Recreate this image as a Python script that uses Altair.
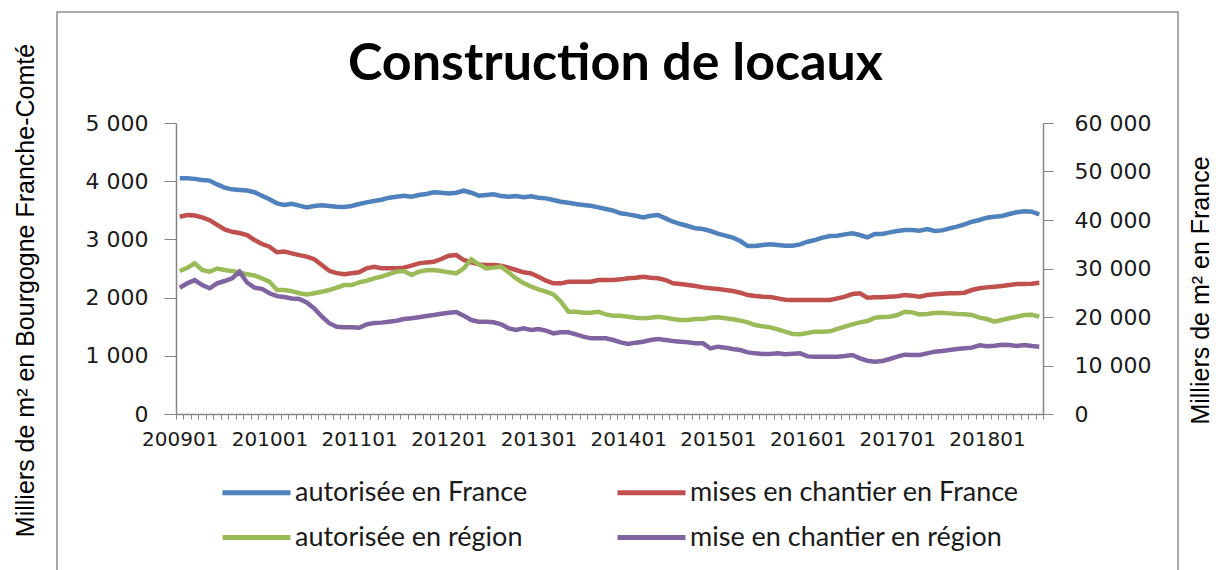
import altair as alt
import pandas as pd

# ---- data -------------------------------------------------------------
MONTHS = [f"{y}{m:02d}" for y in range(2009, 2019) for m in range(1, 13)][:116]

SERIES = ["autorisée en France", "mises en chantier en France",
          "autorisée en région", "mise en chantier en région"]
COLORS = ["#4F81BD", "#C0504D", "#9BBB59", "#8064A2"]

# France (milliers de m²) - right axis
AUT_FRANCE = [
    48590, 48590, 48480, 48240, 48120, 47340, 46680, 46320, 46200, 46080, 45720, 45000,
    44280, 43440, 43080, 43320, 42960, 42600, 42900, 43020, 42900, 42720, 42660,
    42890, 43300, 43640, 43920, 44180, 44600, 44810, 45010, 44810, 45160, 45360, 45700,
    45620, 45490, 45620, 46040, 45620, 45010, 45160, 45290, 44940, 44810, 44940, 44700,
    44900, 44600, 44460, 44120, 43780, 43570, 43300, 43090, 42950, 42610, 42260, 41930,
    41380, 41160, 40880, 40550, 40880, 41030, 40340, 39650, 39170, 38760, 38280,
    38140, 37730, 37180, 36770, 36360, 35660, 34630, 34630, 34840, 34980, 34840, 34700,
    34700, 34980, 35530, 35870, 36360, 36700, 36770, 37040, 37250, 36900, 36420, 37100,
    37100, 37450, 37730, 37930, 37930, 37800, 38140, 37730, 37860, 38280, 38620, 39100,
    39650, 40000, 40480, 40680, 40820, 41230, 41580, 41780, 41710, 41160,
]
MEC_FRANCE = [
    40680, 41040, 40920, 40560, 39960, 39000, 38040, 37560, 37320, 36900, 35880, 35040,
    34500, 33360, 33480, 33120, 32760, 32460, 31920, 30720, 29520, 29040, 28800,
    29000, 29210, 30040, 30370, 30040, 30040, 30040, 30180, 30580, 31060, 31260, 31400,
    31960, 32640, 32780, 31750, 31260, 30850, 30720, 30720, 30580, 30180, 29690, 29210,
    29000, 28310, 27480, 26940, 26940, 27280, 27280, 27280, 27280, 27620, 27620, 27620,
    27760, 27970, 28100, 28310, 28100, 27970, 27620, 26940, 26800, 26590, 26390,
    26110, 25910, 25760, 25560, 25360, 25010, 24530, 24320, 24190, 24120, 23840, 23570,
    23500, 23500, 23500, 23500, 23500, 23500, 23840, 24190, 24740, 24880, 23990, 24050,
    24050, 24190, 24260, 24530, 24400, 24190, 24530, 24670, 24800, 24880, 24880, 25010,
    25560, 25910, 26110, 26260, 26390, 26590, 26800, 26800, 26870, 27070,
]
# Bourgogne Franche-Comté (milliers de m²) - left axis
AUT_REGION = [
    2457, 2510, 2590, 2475, 2445, 2500, 2475, 2455, 2435, 2400, 2380, 2330,
    2275, 2130, 2130, 2110, 2075, 2055, 2075, 2100, 2130, 2170, 2215,
    2216, 2262, 2290, 2330, 2359, 2405, 2445, 2457, 2388, 2445, 2468, 2474,
    2457, 2434, 2417, 2503, 2657, 2571, 2503, 2515, 2531, 2434, 2330, 2250,
    2190, 2142, 2102, 2056, 1930, 1758, 1758, 1741, 1741, 1758, 1712, 1689,
    1689, 1672, 1655, 1644, 1655, 1672, 1655, 1632, 1615, 1615, 1632,
    1632, 1655, 1661, 1644, 1627, 1604, 1575, 1529, 1506, 1489, 1455, 1415,
    1375, 1369, 1392, 1415, 1415, 1420, 1461, 1500, 1540, 1575, 1598, 1655,
    1667, 1672, 1701, 1758, 1746, 1712, 1718, 1735, 1741, 1729, 1718, 1712,
    1701, 1655, 1632, 1586, 1615, 1644, 1672, 1701, 1706, 1672,
]
MEC_REGION = [
    2170, 2245, 2300, 2215, 2160, 2245, 2285, 2330, 2445, 2260, 2170, 2150,
    2075, 2025, 2010, 1985, 1975, 1915, 1815, 1675, 1560, 1500, 1490,
    1489, 1483, 1540, 1563, 1570, 1586, 1603, 1632, 1644, 1661, 1684, 1701,
    1724, 1741, 1752, 1690, 1615, 1586, 1586, 1575, 1540, 1472, 1443, 1472,
    1443, 1461, 1432, 1386, 1403, 1403, 1369, 1329, 1300, 1300, 1300, 1271,
    1231, 1203, 1226, 1243, 1271, 1289, 1271, 1254, 1243, 1231, 1214,
    1214, 1128, 1157, 1140, 1117, 1099, 1059, 1042, 1031, 1031, 1042, 1025,
    1036, 1042, 990, 985, 985, 985, 985, 996, 1013, 956, 916, 899,
    910, 945, 985, 1019, 1013, 1013, 1042, 1071, 1082, 1099, 1117, 1128,
    1140, 1180, 1163, 1174, 1191, 1185, 1168, 1185, 1168, 1157,
]

LEFT_TICKS = [0, 1000, 2000, 3000, 4000, 5000]
RIGHT_TICKS = [0, 10000, 20000, 30000, 40000, 50000, 60000]
YEAR_LABELS = [m for m in MONTHS if m.endswith("01")]

# ---- tables -----------------------------------------------------------
def long_table(pairs):
    rows = []
    for name, vals in pairs:
        for i, (m, v) in enumerate(zip(MONTHS, vals)):
            rows.append({"idx": i, "mois": m, "serie": name, "valeur": v})
    return pd.DataFrame(rows)

france = long_table([(SERIES[0], AUT_FRANCE), (SERIES[1], MEC_FRANCE)])
region = long_table([(SERIES[2], AUT_REGION), (SERIES[3], MEC_REGION)])

N = len(MONTHS)
W, H = 867, 291
PAD_L, PAD_T = 176, 123

# ticks on month boundaries, labels every january (shifted to the month centre)
tick_vals = [i - 0.5 for i in range(N + 1)]
expr = "''"
for lab in reversed(YEAR_LABELS):
    pos = MONTHS.index(lab) - 0.5
    expr = f"datum.value == {pos} ? '{lab}' : ({expr})"
px_per_month = W / N

AX = "#868686"
TXT = "#1a1a1a"
x_enc = alt.X(
    "idx:Q",
    scale=alt.Scale(domain=[-0.5, N - 0.5], nice=False, zero=False),
    axis=alt.Axis(values=tick_vals, labelExpr=expr, labelOffset=px_per_month / 2,
                  labelOverlap=False, labelFlush=False, grid=False, title=None,
                  tickSize=5, domainColor=AX, tickColor=AX, domainWidth=1.5,
                  labelFont="DejaVu Sans", labelFontSize=20, labelColor=TXT,
                  labelPadding=10),
)

# long horizontal line symbol: path extends beyond the unit square
color_enc = alt.Color(
    "serie:N",
    sort=SERIES,
    scale=alt.Scale(domain=SERIES, range=COLORS),
    legend=alt.Legend(
        title=None, orient="none", legendX=67, legendY=356, columns=2,
        direction="horizontal", values=SERIES,
        symbolType="M-5,0H5", symbolStrokeWidth=5, symbolSize=185,
        labelFont="Lato", labelFontSize=27, labelColor=TXT,
        labelOffset=25, columnPadding=79, rowPadding=17, labelLimit=500,
    ),
)

space_fmt = "replace(format(datum.value, ','), ',', ' ')"
TITLE_FONT = dict(titleFont="Liberation Sans", titleFontSize=25,
                  titleFontWeight="normal", titleColor="#000000",
                  titleAngle=270, titleY=167, titleAlign="center",
                  titleBaseline="middle")

line_france = alt.Chart(france).mark_line(strokeWidth=4.5).encode(
    x=x_enc,
    y=alt.Y("valeur:Q", scale=alt.Scale(domain=[0, 60000], nice=False),
            axis=alt.Axis(orient="right", values=RIGHT_TICKS, labelExpr=space_fmt,
                          grid=False, tickSize=10, domainColor=AX, tickColor=AX,
                          domainWidth=1.5, labelFont="DejaVu Sans", labelFontSize=22,
                          labelColor=TXT, labelPadding=21,
                          title="Milliers de m² en France", titleX=157,
                          **TITLE_FONT)),
    color=color_enc,
    detail="serie:N",
)

line_region = alt.Chart(region).mark_line(strokeWidth=4.5).encode(
    x=x_enc,
    y=alt.Y("valeur:Q", scale=alt.Scale(domain=[0, 5000], nice=False),
            axis=alt.Axis(orient="left", values=LEFT_TICKS, labelExpr=space_fmt,
                          grid=False, tickSize=12, domainColor=AX, tickColor=AX,
                          domainWidth=1.5, labelFont="DejaVu Sans", labelFontSize=22,
                          labelColor=TXT, labelPadding=16,
                          title="Milliers de m² en Bourgogne Franche-Comté",
                          titleX=-151, **TITLE_FONT)),
    color=color_enc,
    detail="serie:N",
)

frame = alt.Chart(pd.DataFrame({"k": [0]})).mark_rect(
    filled=False, stroke="#8c8c8c", strokeWidth=1.5
).encode(
    x=alt.value(57 - PAD_L), x2=alt.value(1178 - PAD_L),
    y=alt.value(12 - PAD_T), y2=alt.value(600 - PAD_T),
)

chart = alt.layer(frame, line_france, line_region).resolve_scale(
    y="independent"
).properties(
    width=W, height=H,
    title=alt.TitleParams("Construction de locaux", font="Lato", fontSize=52,
                          fontWeight="bold", anchor="middle", offset=-80, dx=6,
                          color="#000000"),
    autosize=alt.AutoSizeParams(type="none"),
    padding={"left": PAD_L, "top": PAD_T, "right": 1216 - PAD_L - W,
             "bottom": 570 - PAD_T - H},
    background="white",
).configure_view(stroke=None)

chart.save("out.html", embed_options={"renderer": "svg", "actions": False})
